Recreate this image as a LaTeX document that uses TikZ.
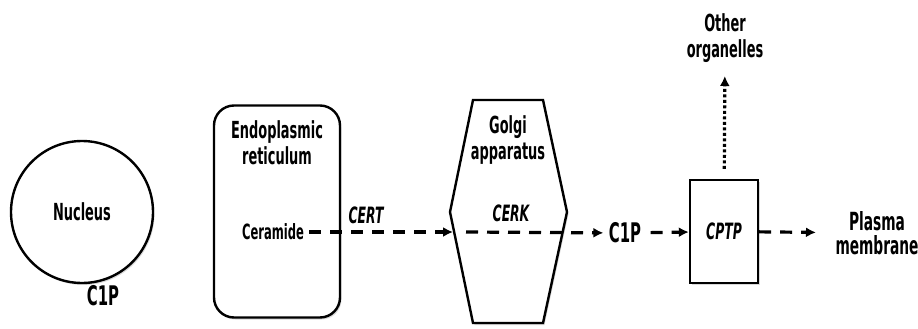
\documentclass[tikz,border=0pt]{standalone}
\usepackage{fontspec}
\setmainfont{DejaVu Sans}[FakeStretch=0.55]
\usetikzlibrary{arrows.meta,shadows}

\begin{document}
\begin{tikzpicture}[x=1pt,y=-1pt,
	organ/.style={draw,line width=2.4pt,fill=white,
		drop shadow={opacity=.3,shadow xshift=1.5pt,shadow yshift=-2pt}},
	lbl/.style={font=\fontsize{23.5}{26}\selectfont\bfseries,align=center},
	big/.style={font=\fontsize{27}{26}\selectfont\bfseries},
	enz/.style={font=\fontsize{22.5}{22}\selectfont\itshape\bfseries},
	flow/.style={-{Latex[length=10pt,width=10pt]},line width=3.2pt,dash pattern=on 12pt off 9pt},
	dots/.style={-{Latex[length=10pt,width=10pt]},line width=3.2pt,dash pattern=on 3pt off 2.5pt}]
	\useasboundingbox (0,0) rectangle (918,329);
	
	% nucleus
	\node[organ,circle,minimum size=142pt,lbl] (nuc) at (82,212) {Nucleus};
	\node[big] (nucc1p) at (103,296) {C1P};
	
	% endoplasmic reticulum
	\node[organ,rounded corners=20pt,minimum width=126pt,minimum height=212pt] (er) at (277,211.5) {};
	\node[lbl] (ername) at (277,143) {Endoplasmic\\reticulum};
	\node[font=\fontsize{21}{20}\selectfont\bfseries] (cer) at (273,232) {Ceramide};
	\node[enz] (cert) at (366,215) {CERT};
	
	% golgi
	\coordinate (gw) at (450,212); \coordinate (ge) at (567,212);
	\draw[organ] (473,100) -- (543,100) -- (ge) -- (543,323) -- (473,323) -- (gw) -- cycle;
	\node[lbl] (golginame) at (508,140) {Golgi\\apparatus};
	\node[enz] (cerk) at (511,213) {CERK};
	\coordinate (gin) at (453,232); \coordinate (gout) at (466,232);
	\node[big] (c1p) at (625,233) {C1P};
	
	% CPTP and targets
	\node[organ,minimum width=68pt,minimum height=103pt,enz] (cptp) at (724,231.5) {CPTP};
	\node[lbl,font=\fontsize{25}{24}\selectfont\bfseries] (pm) at (877,233) {Plasma\\membrane};
	\node[lbl] (other) at (725,38) {Other\\organelles};
	
	\draw[flow] (cer) ++(36,0) -- (gin);
	\draw[flow,shorten >=2pt] (gout) -- (c1p);
	\draw[flow,shorten <=6pt] (c1p) -- (cptp);
	\draw[flow,shorten >=16pt] (cptp) -- (pm);
	\draw[dots,shorten <=10pt,shorten >=10pt] (cptp) -- (other);
\end{tikzpicture}
\end{document}
